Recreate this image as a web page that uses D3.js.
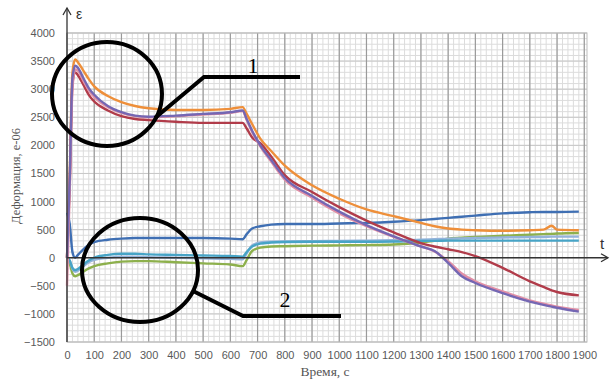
<!DOCTYPE html>
<html>
<head>
<meta charset="utf-8">
<script src="https://cdn.jsdelivr.net/npm/d3@7"></script>
<style>
  body { margin: 0; background: #fff; }
  svg { display: block; }
</style>
</head>
<body>
<div id="chart"></div>
<script>
// time points, s
const times = [0, 10, 20, 30, 40, 60, 80, 100, 150, 200, 250, 300, 400, 500, 600, 645, 660, 680, 710, 750, 800, 900, 1000, 1100, 1200, 1300, 1350, 1400, 1450, 1500, 1600, 1700, 1750, 1780, 1800, 1880];

// deformation values, e-06
const orange = [0, 1500, 3300, 3530, 3480, 3330, 3180, 3050, 2880, 2770, 2700, 2660, 2630, 2630, 2650, 2680, 2560, 2380, 2120, 1900, 1640, 1290, 1050, 860, 740, 620, 560, 520, 500, 490, 480, 490, 500, 570, 500, 490];
const purple = [0, 1400, 3200, 3420, 3380, 3200, 3020, 2900, 2700, 2590, 2530, 2510, 2530, 2560, 2590, 2620, 2470, 2260, 2000, 1740, 1420, 1100, 820, 580, 380, 200, 120, -90, -330, -450, -630, -780, -840, -870, -890, -960];
const darkRed = [0, 1300, 3100, 3300, 3250, 3080, 2900, 2780, 2620, 2520, 2470, 2450, 2420, 2400, 2400, 2400, 2300, 2140, 2040, 1800, 1470, 1170, 900, 660, 450, 260, 200, 150, 100, 30, -180, -420, -520, -580, -610, -670];
const pink = [-500, 1200, 3000, 3350, 3330, 3150, 2980, 2860, 2680, 2580, 2520, 2500, 2520, 2550, 2580, 2610, 2450, 2240, 1980, 1710, 1390, 1070, 790, 560, 370, 200, 110, -60, -280, -420, -600, -760, -820, -850, -870, -930];
const blue = [800, 600, 100, 0, 50, 150, 230, 280, 320, 340, 350, 350, 350, 350, 340, 330, 420, 520, 560, 590, 600, 600, 610, 620, 640, 670, 690, 710, 730, 750, 790, 810, 815, 815, 815, 820];
const green = [0, -100, -280, -330, -310, -250, -190, -150, -100, -70, -60, -60, -80, -100, -120, -150, -40, 120, 180, 200, 205, 215, 220, 225, 235, 270, 300, 340, 355, 370, 390, 410, 420, 425, 430, 440];
const teal = [0, -50, -180, -220, -200, -120, -50, 0, 50, 70, 70, 60, 50, 40, 30, 20, 100, 200, 250, 270, 280, 285, 285, 285, 290, 300, 300, 305, 305, 305, 305, 305, 305, 305, 305, 305];
const lightBlue = [0, -50, -200, -250, -230, -150, -80, -40, 0, 20, 20, 10, 0, -10, -20, -30, 80, 220, 270, 285, 290, 295, 300, 305, 310, 320, 330, 340, 345, 350, 360, 370, 370, 375, 375, 375];

const xTicks = d3.range(0, 2000, 100);
const yTicks = d3.range(-1500, 4500, 500);

const series = [
  { name: 'blue', values: blue, color: '#3f6fb3' },
  { name: 'green', values: green, color: '#8db04c' },
  { name: 'lightBlue', values: lightBlue, color: '#94b3da' },
  { name: 'teal', values: teal, color: '#47a4c6' },
  { name: 'orange', values: orange, color: '#ee8f3a' },
  { name: 'darkRed', values: darkRed, color: '#b13c4a' },
  { name: 'pink', values: pink, color: '#e290a6' },
  { name: 'purple', values: purple, color: '#7467b3' },
];

const WIDTH = 610, HEIGHT = 382;
const PLOT_LEFT = 67, PLOT_TOP = 33, PLOT_RIGHT = 587, PLOT_BOTTOM = 342;

const svg = d3.select('#chart').append('svg')
  .attr('width', WIDTH).attr('height', HEIGHT);

const x = d3.scaleLinear().domain([0, 1910]).range([PLOT_LEFT, PLOT_RIGHT]);
const y = d3.scaleLinear().domain([-1500, 4000]).range([PLOT_BOTTOM, PLOT_TOP]);

// grid, minor first
const grid = svg.append('g');
grid.selectAll('.vminor').data(d3.range(0, 1911, 20)).join('line')
  .attr('x1', d => x(d)).attr('x2', d => x(d))
  .attr('y1', PLOT_TOP).attr('y2', PLOT_BOTTOM)
  .attr('stroke', '#dcdcdc').attr('stroke-width', 1);
grid.selectAll('.hminor').data(d3.range(-1500, 4001, 100)).join('line')
  .attr('x1', PLOT_LEFT).attr('x2', PLOT_RIGHT)
  .attr('y1', d => y(d)).attr('y2', d => y(d))
  .attr('stroke', '#dcdcdc').attr('stroke-width', 1);
grid.selectAll('.hmajor').data(yTicks).join('line')
  .attr('x1', PLOT_LEFT).attr('x2', PLOT_RIGHT)
  .attr('y1', d => y(d)).attr('y2', d => y(d))
  .attr('stroke', '#c8c8c8').attr('stroke-width', 1);
grid.selectAll('.vmajor').data(xTicks).join('line')
  .attr('x1', d => x(d)).attr('x2', d => x(d))
  .attr('y1', PLOT_TOP).attr('y2', PLOT_BOTTOM)
  .attr('stroke', '#9a9a9a').attr('stroke-width', 1.2);
svg.append('rect')
  .attr('x', PLOT_LEFT).attr('y', PLOT_TOP)
  .attr('width', PLOT_RIGHT - PLOT_LEFT).attr('height', PLOT_BOTTOM - PLOT_TOP)
  .attr('fill', 'none').attr('stroke', '#bdbdbd');

// tick labels via axes
const axisY = d3.axisLeft(y).tickValues(yTicks).tickFormat(d3.format('d')).tickSize(0).tickPadding(12);
const axisX = d3.axisBottom(x).tickValues(xTicks).tickFormat(d3.format('d')).tickSize(0).tickPadding(9);
const gy = svg.append('g').attr('transform', `translate(${PLOT_LEFT},0)`).call(axisY);
const gx = svg.append('g').attr('transform', `translate(0,${PLOT_BOTTOM})`).call(axisX);
[gx, gy].forEach(g => {
  g.select('.domain').remove();
  g.selectAll('text')
    .attr('fill', '#595959')
    .style('font-family', '"Liberation Sans", Arial, sans-serif')
    .style('font-size', '11px');
});

// series lines
const line = d3.line()
  .x((d, i) => x(times[i]))
  .y(d => y(d))
  .curve(d3.curveMonotoneX);

svg.append('g').selectAll('path').data(series).join('path')
  .attr('d', d => line(d.values))
  .attr('fill', 'none')
  .attr('stroke', d => d.color)
  .attr('stroke-width', 2.4)
  .attr('stroke-linejoin', 'round');

// axes with arrows
const axes = svg.append('g').attr('stroke', '#333').attr('fill', 'none').attr('stroke-width', 1.3);
axes.append('line').attr('x1', x(0)).attr('x2', x(0)).attr('y1', PLOT_BOTTOM).attr('y2', 8);
axes.append('path').attr('d', `M${x(0) - 4},${15}L${x(0)},${8}L${x(0) + 4},${15}`);
axes.append('line').attr('x1', x(0)).attr('x2', 608).attr('y1', y(0)).attr('y2', y(0));
axes.append('path').attr('d', `M${601},${y(0) - 4}L${608},${y(0)}L${601},${y(0) + 4}`);

svg.append('text').attr('x', 76).attr('y', 19).text('ε')
  .style('font-family', '"Liberation Sans", sans-serif').style('font-size', '14px').attr('fill', '#333');
svg.append('text').attr('x', 600).attr('y', 249).text('t')
  .style('font-family', '"Liberation Sans", sans-serif').style('font-size', '15px').attr('fill', '#333');

// axis titles
svg.append('text')
  .attr('transform', `translate(20,176) rotate(-90)`)
  .attr('text-anchor', 'middle')
  .style('font-family', '"Liberation Serif", serif').style('font-size', '12.5px')
  .attr('fill', '#555')
  .text('Деформация, е-06');
svg.append('text')
  .attr('x', 325).attr('y', 376)
  .attr('text-anchor', 'middle')
  .style('font-family', '"Liberation Serif", serif').style('font-size', '13.5px')
  .attr('fill', '#555')
  .text('Время, с');

// callouts
const callouts = svg.append('g').attr('fill', 'none').attr('stroke', '#000').attr('stroke-width', 4);
callouts.append('ellipse').attr('cx', 107).attr('cy', 94).attr('rx', 55).attr('ry', 52);
callouts.append('path').attr('d', 'M155,118L204,77L300,77');
callouts.append('ellipse').attr('cx', 140).attr('cy', 270).attr('rx', 58).attr('ry', 52);
callouts.append('path').attr('d', 'M193,291L243,316L341,316');

svg.append('text').attr('x', 253).attr('y', 73).attr('text-anchor', 'middle')
  .style('font-family', '"Liberation Serif", serif').style('font-size', '22px').text('1');
svg.append('text').attr('x', 285).attr('y', 307).attr('text-anchor', 'middle')
  .style('font-family', '"Liberation Serif", serif').style('font-size', '22px').text('2');
</script>
</body>
</html>
